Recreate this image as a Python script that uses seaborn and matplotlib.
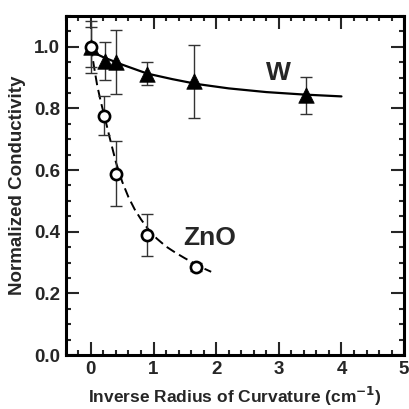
import matplotlib
matplotlib.use("Agg")
import matplotlib.pyplot as plt
import seaborn as sns
import pandas as pd
from matplotlib.ticker import MultipleLocator

sns.set_theme(style="ticks")
plt.rcParams['font.family'] = ['Liberation Sans', 'DejaVu Sans']
plt.rcParams['font.weight'] = 'bold'

# W data (filled triangles)
w_x = [0.0, 0.22, 0.40, 0.89, 1.65, 3.44]
w_y = [1.0, 0.955, 0.951, 0.913, 0.888, 0.842]
w_err = [0.065, 0.062, 0.104, 0.036, 0.118, 0.06]

# ZnO data (open circles)
zno_x = [0.0, 0.21, 0.40, 0.89, 1.67]
zno_y = [1.0, 0.777, 0.588, 0.388, 0.285]
zno_err = [0.085, 0.063, 0.105, 0.068, 0.012]

# fit curves
w_fit_x = [-0.05, 0.2, 0.5, 0.9, 1.3, 1.7, 2.2, 2.8, 3.4, 4.0]
w_fit_y = [0.99, 0.966, 0.942, 0.913, 0.895, 0.879, 0.865, 0.853, 0.845, 0.839]
zno_fit_x = [0.0, 0.05, 0.1, 0.16, 0.22, 0.3, 0.4, 0.5, 0.6, 0.7, 0.8, 0.9, 1.05, 1.2, 1.35, 1.5, 1.67, 1.8, 1.92]
zno_fit_y = [1.0, 0.935, 0.875, 0.82, 0.772, 0.705, 0.625, 0.562, 0.512, 0.472, 0.44, 0.412, 0.378, 0.352, 0.332, 0.314, 0.295, 0.281, 0.27]

xticks = [0, 1, 2, 3, 4, 5]
yticks = [0.0, 0.2, 0.4, 0.6, 0.8, 1.0]

fig = plt.figure(figsize=(4.09, 4.09), dpi=100)
ax = fig.add_axes([0.161, 0.132, 0.827, 0.829])

sns.lineplot(x=w_fit_x, y=w_fit_y, ax=ax, color='black', lw=1.6, sort=False, zorder=2)
sns.lineplot(x=zno_fit_x, y=zno_fit_y, ax=ax, color='black', lw=1.4, sort=False,
             zorder=2).lines[-1].set_dashes([5, 2.5])

ax.errorbar(w_x, w_y, yerr=w_err, fmt='none', ecolor='#333333', elinewidth=1.0,
            capsize=4.5, capthick=1.0, zorder=3)
ax.errorbar(zno_x, zno_y, yerr=zno_err, fmt='none', ecolor='#333333', elinewidth=1.0,
            capsize=4.5, capthick=1.0, zorder=3)

sns.scatterplot(x=w_x, y=w_y, ax=ax, marker='^', s=125, color='black',
                edgecolor='black', linewidth=0.5, zorder=4)
sns.scatterplot(x=zno_x, y=zno_y, ax=ax, marker='o', s=65, facecolor='white',
                edgecolor='black', linewidth=1.9, zorder=5)

ax.text(3.0, 0.916, 'W', fontsize=19, fontweight='bold', ha='center', va='center')
ax.text(1.9, 0.378, 'ZnO', fontsize=19, fontweight='bold', ha='center', va='center')

ax.set_xlim(-0.4, 5)
ax.set_ylim(0, 1.1)
ax.set_xticks(xticks)
ax.set_yticks(yticks)
ax.set_xticklabels([str(t) for t in xticks])
ax.set_yticklabels([f"{t:.1f}" for t in yticks])
ax.xaxis.set_minor_locator(MultipleLocator(0.2))
ax.yaxis.set_minor_locator(MultipleLocator(0.05))
ax.tick_params(which='both', direction='in', top=True, right=True, width=1.5,
               labelsize=13.5, pad=4)
ax.tick_params(which='major', length=9.5)
ax.tick_params(which='minor', length=3.5)
for lab in ax.get_xticklabels() + ax.get_yticklabels():
    lab.set_fontweight('bold')
for sp in ax.spines.values():
    sp.set_linewidth(2.2)
    sp.set_color('black')

ax.set_xlabel('Inverse Radius of Curvature (cm$^{\\mathbf{-1}}$)', fontsize=12.5,
              fontweight='bold', labelpad=5)
ax.set_ylabel('Normalized Conductivity', fontsize=13.5, fontweight='bold', labelpad=6)

fig.savefig('out.png', dpi=100)
